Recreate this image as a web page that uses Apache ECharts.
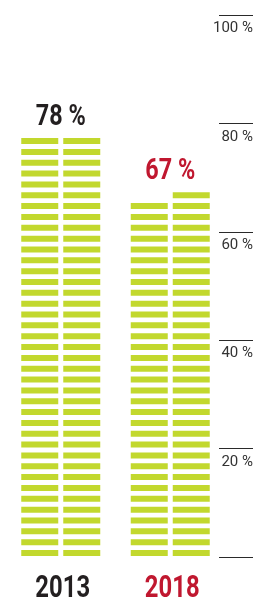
<!DOCTYPE html>
<html lang="en">
<head>
  <meta charset="UTF-8" />
  <title>Share chart</title>
  <script src="https://cdn.jsdelivr.net/npm/echarts@6/dist/echarts.min.js"></script>
  <style>
    html, body { margin: 0; padding: 0; background: #fff; }
    #chart { width: 256px; height: 603px; }
  </style>
</head>
<body>
  <div id="chart"></div>
  <script>
    // data
    const years = ['2013', '2018'];
    const totals = [78, 67];
    const leftCol = [78, 66];
    const rightCol = [78, 68];
    const step = 2; // one stripe = 2 %
    const yearColors = ['#231f20', '#c0172f'];

    const font = "'Roboto', 'Liberation Sans', sans-serif";
    const lime = '#c2d82e';

    const chart = echarts.init(document.getElementById('chart'));
    chart.setOption({
      animation: false,
      grid: [
        { left: 6, width: 219, top: 15, height: 542 },
        { left: 219, right: -3, top: 15, height: 542 }
      ],
      xAxis: [
        {
          gridIndex: 0, type: 'category', data: years,
          axisLine: { show: false }, axisTick: { show: false }, axisLabel: { show: false }
        },
        { gridIndex: 1, type: 'value', show: false }
      ],
      yAxis: [
        { gridIndex: 0, type: 'value', min: 0, max: 100, show: false },
        {
          gridIndex: 1, type: 'value', min: 0, max: 100, interval: 20, position: 'right',
          axisLine: { show: false }, axisTick: { show: false },
          splitLine: { show: true, lineStyle: { color: '#2a2a2a', width: 1.2 } },
          axisLabel: {
            inside: true, margin: 0, verticalAlign: 'top', padding: [6, 0, 0, 0],
            color: '#333', fontSize: 15, fontFamily: font,
            formatter: v => (v === 0 ? '' : v + ' %')
          }
        }
      ],
      series: [{
        type: 'custom',
        xAxisIndex: 0, yAxisIndex: 0,
        data: years.map((y, i) => [i, leftCol[i], rightCol[i], totals[i]]),
        renderItem(params, api) {
          const idx = api.value(0);
          const base = api.coord([idx, 0]);
          const cx = base[0];
          const children = [];
          [[api.value(1), -39.5], [api.value(2), 2.5]].forEach(([v, off]) => {
            for (let s = 0; s < v; s += step) {
              const y0 = api.coord([idx, s])[1];
              children.push({
                type: 'rect',
                shape: { x: cx + off, y: y0 - 7, width: 37, height: 6 },
                style: { fill: lime }
              });
            }
          });
          const vmax = Math.max(api.value(1), api.value(2));
          const top = api.coord([idx, vmax])[1] + 3.8;
          // value label above the stripes
          children.push({
            type: 'text', x: cx, y: top - 6, scaleX: 0.78,
            style: {
              x: 0, y: 0, text: api.value(3) + ' %',
              align: 'center', verticalAlign: 'bottom',
              fill: yearColors[idx], fontSize: 30, fontWeight: 'bold', fontFamily: font
            }
          });
          // year label under the axis
          children.push({
            type: 'text', x: cx + 2, y: base[1] + 17, scaleX: 0.77,
            style: {
              x: 0, y: 0, text: years[idx],
              align: 'center', verticalAlign: 'top',
              fill: yearColors[idx], fontSize: 31, fontWeight: 'bold', fontFamily: font
            }
          });
          return { type: 'group', children };
        }
      }]
    });
  </script>
</body>
</html>
